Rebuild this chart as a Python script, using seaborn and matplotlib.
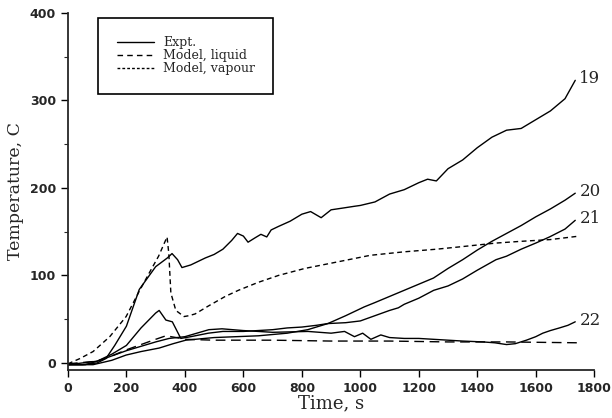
import numpy as np
import pandas as pd
import seaborn as sns
import matplotlib.pyplot as plt
from matplotlib.lines import Line2D

# valeurs
t19 = [0, 50, 100, 130, 160, 200, 244, 300, 340, 356, 375, 390, 420, 470, 500, 530, 560, 580, 600, 616, 640,
       660, 680, 695, 720, 760, 800, 830, 866, 900, 940, 979, 1000, 1050, 1100, 1150, 1200, 1230, 1260, 1300,
       1350, 1400, 1450, 1500, 1550, 1600, 1650, 1700, 1735]
T19 = [-2, -2, 0, 5, 20, 42, 84, 110, 120, 125, 118, 109, 112, 120, 124, 130, 140, 148, 145, 138, 143,
       147, 144, 152, 156, 162, 170, 173, 166, 175, 177, 179, 180, 184, 193, 198, 206, 210, 208, 222,
       232, 246, 258, 266, 268, 278, 288, 302, 323]

t20 = [0, 60, 100, 150, 200, 250, 300, 312, 335, 357, 386, 420, 480, 530, 600, 650, 700, 750, 800, 850,
       889, 950, 1013, 1050, 1100, 1150, 1200, 1250, 1300, 1350, 1400, 1450, 1500, 1550, 1600, 1650, 1700, 1735]
T20 = [-2, -2, 2, 10, 20, 40, 57, 60, 49, 47, 28, 30, 34, 36, 36, 37, 38, 40, 41, 43,
       45, 54, 64, 69, 76, 83, 90, 97, 108, 118, 129, 139, 148, 157, 167, 176, 186, 194]

t21 = [0, 86, 150, 199, 250, 312, 360, 403, 500, 651, 750, 820, 889, 950, 1000, 1050, 1100, 1130, 1150,
       1200, 1251, 1300, 1350, 1400, 1464, 1500, 1550, 1600, 1647, 1700, 1735]
T21 = [-2, -2, 3, 9, 13, 17, 22, 26, 29, 31, 34, 38, 45, 46, 48, 54, 60, 63, 67,
       74, 83, 88, 96, 106, 118, 122, 130, 137, 144, 153, 163]

t22 = [0, 100, 200, 300, 346, 400, 482, 527, 600, 651, 700, 821, 900, 946, 980, 1008, 1036, 1070, 1100,
       1150, 1200, 1250, 1300, 1350, 1420, 1460, 1500, 1530, 1568, 1600, 1624, 1650, 1681, 1710, 1735]
T22 = [-2, 2, 14, 24, 28, 30, 38, 39, 37, 36, 35, 36, 34, 36, 30, 34, 27, 32, 29,
       28, 28, 27, 26, 25, 24, 23, 21, 22, 26, 30, 34, 37, 40, 43, 47]

t_liq = [0, 100, 150, 200, 250, 300, 335, 370, 400, 500, 700, 900, 1100, 1300, 1500, 1750]
T_liq = [-1, 2, 8, 15, 21, 27, 31, 29, 27, 26, 26, 25, 25, 24, 24, 23]

t_vap = [0, 41, 86, 143, 199, 244, 280, 310, 339, 345, 352, 369, 397, 414, 435, 480, 538, 583, 650, 720,
         810, 900, 1034, 1150, 1261, 1350, 1464, 1550, 1650, 1750]
T_vap = [-1, 5, 13, 30, 53, 82, 104, 122, 144, 125, 80, 60, 53, 54, 56, 65, 76, 83, 92, 100,
         108, 114, 123, 127, 130, 133, 137, 139, 141, 145]

etiquettes = ['19', '20', '21', '22']

sns.set_style('ticks')
plt.rcParams['font.family'] = ['DejaVu Serif']

fig = plt.figure(figsize=(6.12, 4.18), dpi=100)
ax = fig.add_axes([0.111, 0.115, 0.860, 0.854])

expts = [(t19, T19), (t20, T20), (t21, T21), (t22, T22)]
for (t, T), lab in zip(expts, etiquettes):
    df = pd.DataFrame({'t': t, 'T': T})
    sns.lineplot(data=df, x='t', y='T', ax=ax, color='black', linewidth=1.0)
    ax.text(t[-1] + 14, T[-1] + 2, lab, fontsize=12, family='DejaVu Serif', va='center', ha='left')

df_liq = pd.DataFrame({'t': t_liq, 'T': T_liq})
sns.lineplot(data=df_liq, x='t', y='T', ax=ax, color='black', linewidth=1.0)
ax.lines[-1].set_linestyle((0, (7, 4)))

df_vap = pd.DataFrame({'t': t_vap, 'T': T_vap})
sns.lineplot(data=df_vap, x='t', y='T', ax=ax, color='black', linewidth=1.0)
ax.lines[-1].set_linestyle((0, (3.5, 2.5)))

ax.set_xlim(0, 1800)
ax.set_ylim(-8, 400)
ax.set_xticks(np.arange(0, 1801, 200))
ax.set_yticks(np.arange(0, 401, 100))
ax.set_yticks(np.arange(50, 400, 100), minor=True)
for s in ['top', 'right']:
    ax.spines[s].set_visible(False)
for s in ['left', 'bottom']:
    ax.spines[s].set_linewidth(1.3)
ax.tick_params(axis='both', which='major', length=5, width=1.0, labelsize=9, direction='out', color='black')
ax.tick_params(axis='y', which='minor', length=3, width=0.8)
for lbl in ax.get_xticklabels() + ax.get_yticklabels():
    lbl.set_fontweight('bold')
    lbl.set_family('DejaVu Sans')

ax.set_xlabel('Time, s', fontsize=13, labelpad=0)
ax.set_ylabel('Temperature, C', fontsize=12.5, labelpad=4)

handles = [Line2D([], [], color='black', lw=1.0),
           Line2D([], [], color='black', lw=1.0, ls=(0, (4, 3))),
           Line2D([], [], color='black', lw=1.0, ls=(0, (2, 1.5)))]
leg = ax.legend(handles, ['Expt.', 'Model, liquid', 'Model, vapour'], loc='upper left',
                bbox_to_anchor=(0.058, 0.985), frameon=True, fancybox=False, framealpha=1,
                edgecolor='black', fontsize=9, handlelength=3.0, borderpad=1.45,
                labelspacing=0.0, handletextpad=0.7, borderaxespad=0)
leg.get_frame().set_linewidth(1.2)

fig.savefig('out.png', dpi=100)
